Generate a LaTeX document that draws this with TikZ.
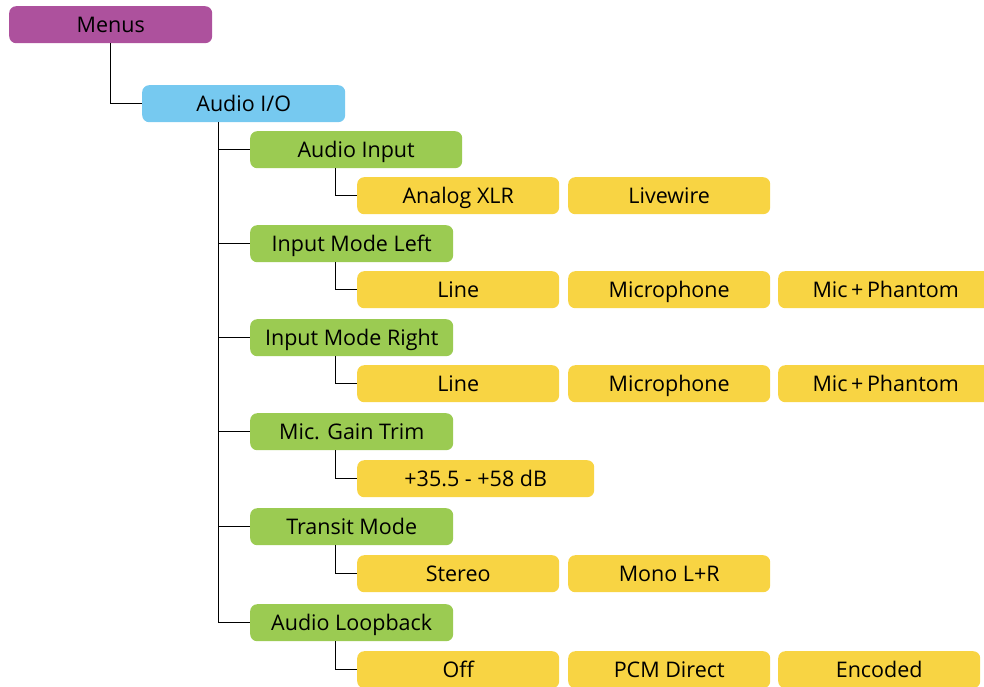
\documentclass[tikz,border=0pt]{standalone}
\usepackage{fontspec}
\setmainfont{Open Sans}
\definecolor{cpurple}{HTML}{AD519D}
\definecolor{cblue}{HTML}{76C9F0}
\definecolor{cgreen}{HTML}{9BCB52}
\definecolor{cyellow}{HTML}{F8D443}
\tikzset{
  box/.style={rounded corners=7pt, inner sep=0pt, minimum height=37pt, anchor=north west,
    text height=20pt, text depth=5pt,
    font=\fontsize{21.5}{24}\selectfont, text=black},
  pbox/.style={box, fill=cpurple, minimum width=203pt},
  bbox/.style={box, fill=cblue, minimum width=203pt},
  gbox/.style={box, fill=cgreen, minimum width=203pt},
  ybox/.style={box, fill=cyellow, minimum width=202pt},
  conn/.style={draw=black, line width=1pt}
}
\begin{document}
\begin{tikzpicture}[x=1pt,y=-1pt]
\useasboundingbox (0,0) rectangle (984,686);
\node[pbox] (menus) at (9,6) {Menus};
\node[bbox] (aio) at (142,85) {Audio I/O};
\node[gbox, minimum width=212pt] (g1) at (250,131) {Audio Input};
\node[gbox] (g2) at (250,225) {Input Mode Left};
\node[gbox] (g3) at (250,319) {Input Mode Right};
\node[gbox] (g4) at (250,413) {Mic. Gain Trim};
\node[gbox] (g5) at (250,508) {Transit Mode};
\node[gbox] (g6) at (250,604) {Audio Loopback};
\node[ybox] (y11) at (357,177) {Analog XLR};
\node[ybox] (y12) at (568,177) {Livewire};
\node[ybox] (y21) at (357,271) {Line};
\node[ybox] (y22) at (568,271) {Microphone};
\node[ybox, minimum width=215pt] (y23) at (778,271) {Mic\,+\,Phantom};
\node[ybox] (y31) at (357,365) {Line};
\node[ybox] (y32) at (568,365) {Microphone};
\node[ybox, minimum width=215pt] (y33) at (778,365) {Mic\,+\,Phantom};
\node[ybox, minimum width=237pt] (y41) at (357,460) {+35.5 - +58 dB};
\node[ybox] (y51) at (357,555) {Stereo};
\node[ybox] (y52) at (568,555) {Mono L+R};
\node[ybox] (y61) at (357,651) {Off};
\node[ybox] (y62) at (568,651) {PCM Direct};
\node[ybox] (y63) at (778,651) {Encoded};
\draw[conn] ([xshift=101pt]menus.south west) |- (aio.west);
\coordinate (t) at (218,122);
\draw[conn] (t) |- (g6.west);
\foreach \g in {g1,g2,g3,g4,g5} {\draw[conn] (t |- \g.west) -- (\g.west);}
\draw[conn] ([xshift=85pt]g1.south west) |- (y11.west);
\draw[conn] ([xshift=85pt]g2.south west) |- (y21.west);
\draw[conn] ([xshift=85pt]g3.south west) |- (y31.west);
\draw[conn] ([xshift=85pt]g4.south west) |- (y41.west);
\draw[conn] ([xshift=85pt]g5.south west) |- (y51.west);
\draw[conn] ([xshift=85pt]g6.south west) |- (y61.west);
\end{tikzpicture}
\end{document}
